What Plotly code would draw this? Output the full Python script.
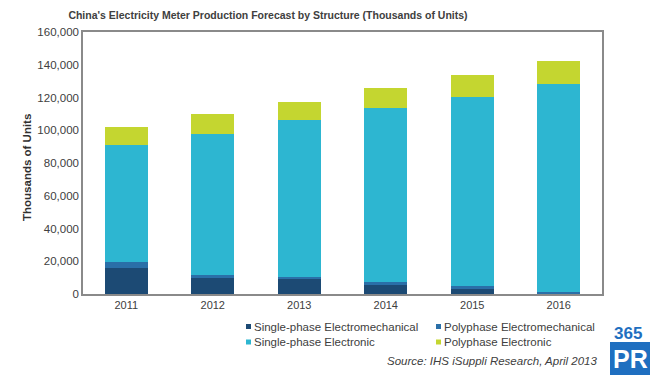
import plotly.graph_objects as go

years = ["2011", "2012", "2013", "2014", "2015", "2016"]
sp_electromech = [16000, 9700, 8900, 5600, 3200, 500]
pp_electromech = [3500, 2000, 1400, 1600, 1400, 1000]
sp_electronic = [71400, 86000, 95700, 106200, 115700, 126600]
pp_electronic = [11200, 12200, 11400, 12200, 13700, 14100]

series = [
    ("Single-phase Electromechanical", sp_electromech, "#1c4a74"),
    ("Polyphase Electromechanical", pp_electromech, "#2a6fa8"),
    ("Single-phase Electronic", sp_electronic, "#2db6d1"),
    ("Polyphase Electronic", pp_electronic, "#c4d630"),
]

L, R, T, B = 83, 602, 32, 294
W, H = 650, 375
PW, PH = R - L, B - T


def px(x):
    return (x - L) / PW


def py(y):
    return (B - y) / PH


fig = go.Figure()
for name, vals, col in series:
    fig.add_trace(go.Bar(x=years, y=vals, name=name, showlegend=False,
                         marker=dict(color=col, line=dict(width=0))))

font = "Liberation Sans, Arial, sans-serif"
fig.update_layout(
    width=W, height=H,
    barmode="stack", bargap=0.5,
    paper_bgcolor="white", plot_bgcolor="white",
    margin=dict(l=L, r=W - R, t=T, b=H - B, autoexpand=False),
    font=dict(family=font, size=11, color="#404040"),
    title=dict(text="<b>China's Electricity Meter Production Forecast by Structure (Thousands of Units)</b>",
               x=268 / W, xanchor="center", y=1 - 15 / H, yanchor="middle",
               font=dict(size=10.5, color="#404040")),
    showlegend=False,
    xaxis=dict(showline=True, linecolor="#8a8a8a", linewidth=1.5, mirror=True,
               ticks="", tickfont=dict(size=11, color="#404040")),
    yaxis=dict(range=[0, 160000], dtick=20000, tickformat=",", showgrid=False,
               showline=True, linecolor="#8a8a8a", linewidth=1.5, mirror=True, ticks="",
               tickfont=dict(size=11.5, color="#404040")),
)

# y-axis title
fig.add_annotation(text="<b>Thousands of Units</b>", xref="paper", yref="paper",
                   x=px(19), y=py(168), textangle=-90, showarrow=False,
                   font=dict(size=11.5, color="#303030"))

# manual legend (two columns, two rows)
leg_pos = [(248.5, 326.5), (438.5, 326.5), (248.5, 342), (438.5, 342)]
for (name, vals, col), (lx, ly) in zip(series, leg_pos):
    fig.add_shape(type="rect", xref="paper", yref="paper",
                  x0=px(lx - 2.5), x1=px(lx + 2.5), y0=py(ly + 2.5), y1=py(ly - 2.5),
                  fillcolor=col, line=dict(width=0))
    fig.add_annotation(text=name, xref="paper", yref="paper", x=px(lx + 3), y=py(ly),
                       xanchor="left", yanchor="middle", showarrow=False,
                       font=dict(size=11.5, color="#404040"))

fig.add_annotation(text="<i>Source: IHS iSuppli Research, April 2013</i>", xref="paper", yref="paper",
                   x=px(599), xanchor="right", y=py(361), yanchor="middle",
                   showarrow=False, font=dict(size=11.5, color="#404040"))

# watermark logo
fig.add_annotation(text="<b>PR</b>", xref="paper", yref="paper", x=px(651), y=py(376),
                   xanchor="right", yanchor="bottom", showarrow=False,
                   bgcolor="#1f6fc0", borderpad=3, borderwidth=0,
                   font=dict(size=25, color="white", family="Liberation Sans"))
fig.add_annotation(text="<b>365</b>", xref="paper", yref="paper", x=px(644), y=py(333),
                   xanchor="right", yanchor="middle", showarrow=False,
                   font=dict(size=17, color="#1f6fc0", family="Liberation Sans"))

fig.write_html("out.html", config={"displayModeBar": False},
               post_script="document.body.style.margin='0px';document.body.style.overflow='hidden';")
